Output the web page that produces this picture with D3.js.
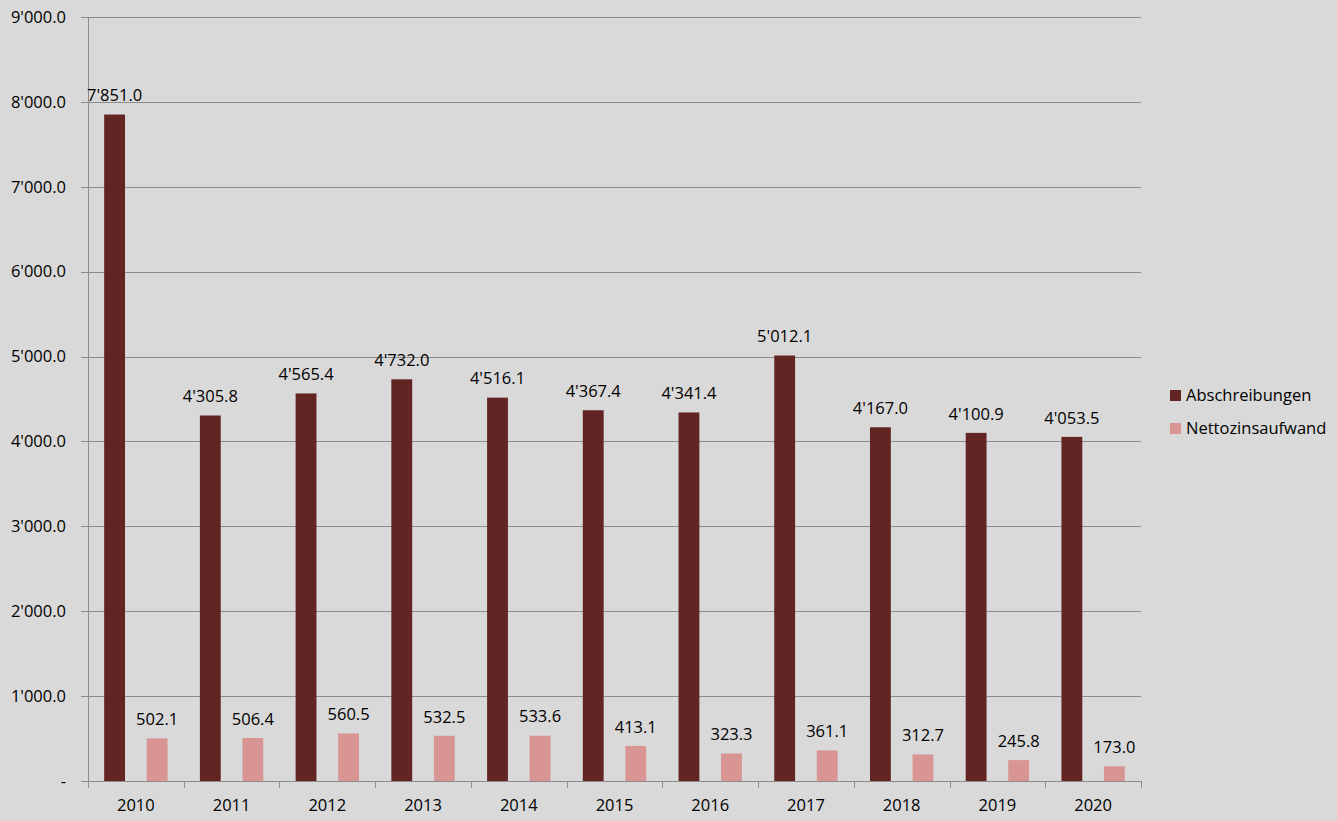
<!DOCTYPE html>
<html>
<head>
<meta charset="utf-8">
<script src="https://cdn.jsdelivr.net/npm/d3@7"></script>
<style>
  body { margin: 0; background: #d9d9d9; }
  svg { display: block; font-family: "Open Sans", sans-serif; }
</style>
</head>
<body>
<div id="chart"></div>
<script>
// Data
var years = ["2010", "2011", "2012", "2013", "2014", "2015", "2016", "2017", "2018", "2019", "2020"];
var seriesNames = ["Abschreibungen", "Nettozinsaufwand"];
var abschreibungen = [7851.0, 4305.8, 4565.4, 4732.0, 4516.1, 4367.4, 4341.4, 5012.1, 4167.0, 4100.9, 4053.5];
var nettozins = [502.1, 506.4, 560.5, 532.5, 533.6, 413.1, 323.3, 361.1, 312.7, 245.8, 173.0];
var yTicks = [0, 1000, 2000, 3000, 4000, 5000, 6000, 7000, 8000, 9000];
var colors = ["#632523", "#d99594"];

var W = 1337, H = 821;
var margin = {top: 17, left: 88, right: 196, bottom: 40};
var width = W - margin.left - margin.right,
    height = H - margin.top - margin.bottom;
var fontSize = 16.5;

var locale = d3.formatLocale({decimal: ".", thousands: "'", grouping: [3], currency: ["", ""]});
var fmt = locale.format(",.1f");

var rows = years.map(function(y, i) {
    return {year: y, values: [abschreibungen[i], nettozins[i]]};
});

var svg = d3.select("#chart")
            .append("svg")
            .attr("width", W)
            .attr("height", H);

var g = svg.append("g")
           .attr("transform", "translate(" + margin.left + "," + margin.top + ")");

var x0 = d3.scaleBand().domain(years).range([0, width]).padding(0);
var x1 = d3.scaleBand().domain([0, 1]).range([0, x0.bandwidth()])
           .paddingInner(0.51).paddingOuter(0.38);
var y = d3.scaleLinear().domain([0, 9000]).range([height, 0]);

// Gridlines
g.append("g")
 .selectAll("line")
 .data(yTicks)
 .enter()
 .append("line")
 .attr("x1", -7)
 .attr("x2", width)
 .attr("y1", function(d) { return Math.round(y(d)) + 0.5; })
 .attr("y2", function(d) { return Math.round(y(d)) + 0.5; })
 .attr("stroke", "#8c8c8c")
 .attr("stroke-width", 1);

// Y axis labels
g.append("g")
 .selectAll("text")
 .data(yTicks)
 .enter()
 .append("text")
 .attr("x", -22)
 .attr("y", function(d) { return y(d); })
 .attr("dy", "0.35em")
 .attr("text-anchor", "end")
 .attr("font-size", fontSize)
 .attr("fill", "#000")
 .text(function(d) { return d === 0 ? "-" : fmt(d); });

// Y axis line
g.append("line")
 .attr("x1", 0.5).attr("x2", 0.5)
 .attr("y1", 0).attr("y2", height + 7)
 .attr("stroke", "#8c8c8c");

// X axis ticks
g.append("g")
 .selectAll("line")
 .data(years.concat(["end"]))
 .enter()
 .append("line")
 .attr("x1", function(d, i) { return Math.round(i * x0.step()) + 0.5; })
 .attr("x2", function(d, i) { return Math.round(i * x0.step()) + 0.5; })
 .attr("y1", height)
 .attr("y2", height + 7)
 .attr("stroke", "#8c8c8c");

// X axis labels
g.append("g")
 .selectAll("text")
 .data(years)
 .enter()
 .append("text")
 .attr("x", function(d) { return x0(d) + x0.bandwidth() / 2; })
 .attr("y", height + 24)
 .attr("dy", "0.35em")
 .attr("text-anchor", "middle")
 .attr("font-size", fontSize)
 .attr("fill", "#000")
 .text(function(d) { return d; });

// Bars
var groups = g.selectAll(".grp")
              .data(rows)
              .enter()
              .append("g")
              .attr("transform", function(d) { return "translate(" + x0(d.year) + ",0)"; });

groups.selectAll("rect")
      .data(function(d) { return d.values; })
      .enter()
      .append("rect")
      .attr("x", function(d, i) { return x1(i); })
      .attr("y", function(d) { return y(d); })
      .attr("width", x1.bandwidth())
      .attr("height", function(d) { return height - y(d); })
      .attr("fill", function(d, i) { return colors[i]; });

groups.selectAll("text")
      .data(function(d) { return d.values; })
      .enter()
      .append("text")
      .attr("x", function(d, i) { return x1(i) + x1.bandwidth() / 2; })
      .attr("y", function(d) { return y(d) - 19; })
      .attr("dy", "0.35em")
      .attr("text-anchor", "middle")
      .attr("font-size", fontSize)
      .attr("fill", "#000")
      .text(function(d) { return fmt(d); });

// Legend
var legend = svg.append("g")
                .attr("transform", "translate(1170,395)");

var items = legend.selectAll("g")
                  .data(seriesNames)
                  .enter()
                  .append("g")
                  .attr("transform", function(d, i) { return "translate(0," + (i * 33) + ")"; });

items.append("rect")
     .attr("x", 0).attr("y", -5)
     .attr("width", 11).attr("height", 11)
     .attr("fill", function(d, i) { return colors[i]; });

items.append("text")
     .attr("x", 16)
     .attr("y", 0)
     .attr("dy", "0.35em")
     .attr("font-size", fontSize)
     .attr("fill", "#000")
     .text(function(d) { return d; });
</script>
</body>
</html>
